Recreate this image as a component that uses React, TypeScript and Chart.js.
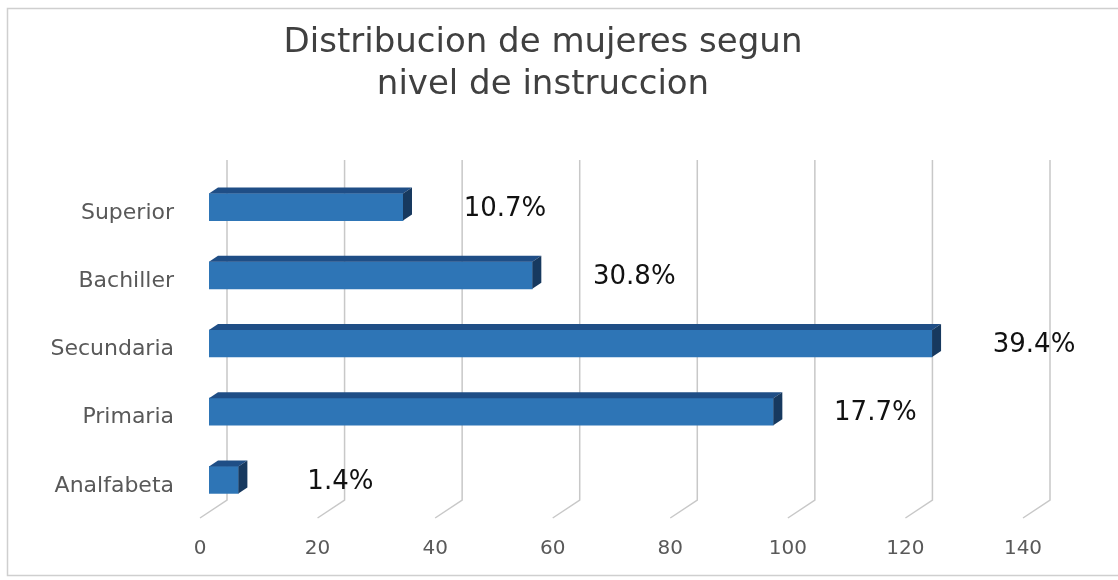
import React, { useEffect, useRef } from "react";
import { Chart, registerables } from "chart.js";

Chart.register(...registerables);

const categories = ["Superior", "Bachiller", "Secundaria", "Primaria", "Analfabeta"];
const values = [33, 55, 123, 96, 5];
const percentLabels = ["10.7%", "30.8%", "39.4%", "17.7%", "1.4%"];
const titleLines = ["Distribucion de mujeres segun", "nivel de instruccion"];
const xMin = 0;
const xMax = 140;
const xStep = 20;

const FONT = "'DejaVu Sans', sans-serif";
const DEPTH_X = 9;
const DEPTH_Y = 6;

const framePlugin = {
  id: "frame",
  beforeDraw(chart: any) {
    const { ctx, width } = chart;
    ctx.save();
    ctx.fillStyle = "#ffffff";
    ctx.fillRect(0, 0, chart.width, chart.height);
    ctx.strokeStyle = "#cfcfcf";
    ctx.lineWidth = 1.5;
    ctx.strokeRect(7.5, 8.5, width + 10, 567);
    ctx.restore();
  },
};

const wallGridPlugin = {
  id: "wallGrid",
  beforeDatasetsDraw(chart: any) {
    const { ctx, chartArea } = chart;
    const xs = chart.scales.x;
    ctx.save();
    ctx.strokeStyle = "#c8c8c8";
    ctx.lineWidth = 1.5;
    xs.ticks.forEach((t: any) => {
      const px = xs.getPixelForValue(t.value);
      const gx = px + 18;
      ctx.beginPath();
      ctx.moveTo(gx, chartArea.top - 13);
      ctx.lineTo(gx, chartArea.bottom - 14);
      ctx.lineTo(gx - 27, chartArea.bottom + 4);
      ctx.stroke();
    });
    ctx.restore();
  },
};

const bar3dPlugin = {
  id: "bar3d",
  afterDatasetsDraw(chart: any) {
    const { ctx } = chart;
    const meta = chart.getDatasetMeta(0);
    ctx.save();
    meta.data.forEach((bar: any, i: number) => {
      const { x, y, base, height } = bar.getProps(["x", "y", "base", "height"], true);
      const top = y - height / 2;
      const bottom = y + height / 2;
      ctx.fillStyle = "#1f4e86";
      ctx.beginPath();
      ctx.moveTo(base, top);
      ctx.lineTo(x, top);
      ctx.lineTo(x + DEPTH_X, top - DEPTH_Y);
      ctx.lineTo(base + DEPTH_X, top - DEPTH_Y);
      ctx.closePath();
      ctx.fill();
      ctx.fillStyle = "#17395f";
      ctx.beginPath();
      ctx.moveTo(x, top);
      ctx.lineTo(x + DEPTH_X, top - DEPTH_Y);
      ctx.lineTo(x + DEPTH_X, bottom - DEPTH_Y);
      ctx.lineTo(x, bottom);
      ctx.closePath();
      ctx.fill();
      ctx.fillStyle = "#111111";
      ctx.font = `26px ${FONT}`;
      ctx.textAlign = "center";
      ctx.textBaseline = "middle";
      ctx.fillText(percentLabels[i], x + 102, y + 2);
    });
    ctx.restore();
  },
};

export default function App() {
  const canvasRef = useRef<HTMLCanvasElement | null>(null);

  useEffect(() => {
    if (!canvasRef.current) return;
    const chart = new Chart(canvasRef.current, {
      type: "bar",
      data: {
        labels: categories,
        datasets: [
          {
            data: values,
            backgroundColor: "#2e75b6",
            borderWidth: 0,
            barThickness: 27,
          },
        ],
      },
      options: {
        indexAxis: "y",
        responsive: false,
        animation: false,
        events: [],
        layout: { padding: { left: 0, right: 32, top: 22, bottom: 0 } },
        plugins: {
          legend: { display: false },
          tooltip: { enabled: false },
          title: {
            display: true,
            text: titleLines,
            color: "#404040",
            font: { family: FONT, size: 34, weight: "normal", lineHeight: 42 / 34 },
            padding: { top: 0, bottom: 67 },
          },
        },
        scales: {
          x: {
            type: "linear",
            min: xMin,
            max: xMax,
            grid: { display: false },
            border: { display: false },
            ticks: {
              stepSize: xStep,
              labelOffset: -9,
              padding: 15,
              color: "#595959",
              font: { family: FONT, size: 20 },
            },
            afterFit(s: any) {
              s.height = 66;
            },
          },
          y: {
            type: "category",
            grid: { display: false },
            border: { display: false },
            ticks: {
              padding: 27,
              labelOffset: 6,
              color: "#595959",
              font: { family: FONT, size: 22 },
            },
            afterFit(s: any) {
              s.width = 209;
            },
          },
          rightSpace: {
            type: "linear",
            position: "right",
            display: true,
            grid: { display: false },
            border: { display: false },
            ticks: { display: false },
            afterFit(s: any) {
              s.width = 54;
            },
          },
        },
      },
      plugins: [framePlugin, wallGridPlugin, bar3dPlugin],
    } as any);
    return () => chart.destroy();
  }, []);

  return (
    <div style={{ position: "fixed", left: 0, top: 0, width: 1118, height: 580 }}>
      <canvas ref={canvasRef} width={1118} height={580} style={{ display: "block" }} />
    </div>
  );
}
